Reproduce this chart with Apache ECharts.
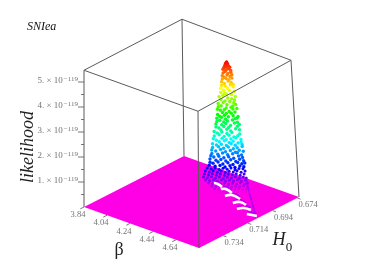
<!DOCTYPE html>
<html>
<head>
<meta charset="utf-8">
<style>html,body{margin:0;padding:0;background:#fff}#c{width:382px;height:269px;filter:blur(0.35px)}</style>
<script src="https://cdn.jsdelivr.net/npm/echarts@6/dist/echarts.min.js"></script>
</head>
<body>
<div id="c"></div>
<script>
const betaTicks = [3.84, 4.04, 4.24, 4.44, 4.64];
const h0Ticks = [0.674, 0.694, 0.714, 0.734];
const likelihoodTicks = [1, 2, 3, 4, 5];
const likelihoodMinorTicks = [0.5, 1.5, 2.5, 3.5, 4.5];
const betaRange = [3.84, 4.84];
const h0Range = [0.6725, 0.7535];
const likelihoodRange = [0, 5.47]; // in units of 1e-119
const likelihoodPeak = 5.26;

// [beta, H0, likelihood / 1e-119]
const peakPoints = [
[4.456,.6919,5.26],
[4.451,.6923,5.21],[4.461,.6916,5.19],
[4.446,.6926,5.12],[4.456,.6919,5.15],[4.466,.6913,5.10],
[4.441,.6929,5.04],[4.451,.6923,5.07],[4.461,.6916,5.02],[4.472,.6909,5.05],
[4.436,.6933,4.97],[4.451,.6923,4.93],[4.466,.6913,4.99],[4.477,.6906,4.92],
[4.436,.6933,4.82],[4.446,.6926,4.88],[4.461,.6916,4.80],[4.477,.6906,4.85],
[4.431,.6936,4.71],[4.441,.6929,4.65],[4.456,.6919,4.74],[4.472,.6909,4.68],[4.482,.6903,4.75],
[4.431,.6936,4.58],[4.451,.6923,4.60],[4.466,.6913,4.55],[4.482,.6903,4.62],
[4.426,.6939,4.47],[4.441,.6929,4.40],[4.461,.6916,4.50],[4.477,.6906,4.44],[4.487,.6899,4.36],
[4.426,.6939,4.33],[4.446,.6926,4.29],[4.472,.6909,4.35],
[4.420,.6943,4.21],[4.436,.6933,4.13],[4.456,.6919,4.22],[4.487,.6899,4.27],
[4.420,.6943,4.04],[4.441,.6929,4.01],[4.466,.6913,4.12],[4.492,.6896,4.09],
[4.431,.6936,3.93],[4.451,.6923,3.97],[4.477,.6906,3.96],[4.497,.6893,3.88],
[4.410,.6949,3.87],[4.456,.6919,3.82],[4.477,.6906,3.79],[4.492,.6896,3.74],
[4.420,.6943,3.76],[4.441,.6929,3.70],[4.466,.6913,3.68],[4.487,.6899,3.63],
[4.405,.6953,3.60],[4.431,.6936,3.64],[4.451,.6923,3.55],[4.482,.6903,3.50],[4.497,.6893,3.56],
[4.405,.6953,3.47],[4.420,.6943,3.51],[4.446,.6926,3.42],[4.472,.6909,3.45],
[4.400,.6956,3.37],[4.415,.6946,3.33],[4.436,.6933,3.35],[4.461,.6916,3.28],[4.482,.6903,3.38],[4.502,.6889,3.40],
[4.426,.6939,3.24],[4.446,.6926,3.20],[4.472,.6909,3.21],[4.492,.6896,3.26],
[4.400,.6956,3.16],[4.410,.6949,3.09],[4.436,.6933,3.13],[4.456,.6919,3.07],[4.482,.6903,3.11],[4.502,.6889,3.02],
[4.395,.6959,3.01],[4.420,.6943,3.05],[4.441,.6929,2.97],[4.492,.6896,2.99],[4.507,.6886,3.08],
[4.395,.6959,2.88],[4.410,.6949,2.93],[4.431,.6936,2.86],[4.451,.6923,2.90],[4.477,.6906,2.94],[4.502,.6889,2.85],
[4.390,.6963,2.78],[4.420,.6943,2.75],[4.441,.6929,2.80],[4.466,.6913,2.72],[4.487,.6899,2.82],[4.513,.6883,2.76],
[4.390,.6963,2.66],[4.405,.6953,2.62],[4.431,.6936,2.68],[4.456,.6919,2.64],[4.502,.6889,2.69],
[4.415,.6946,2.54],[4.446,.6926,2.57],[4.466,.6913,2.50],[4.492,.6896,2.59],[4.513,.6883,2.55],
[4.379,.6969,2.48],[4.395,.6959,2.42],[4.420,.6943,2.46],[4.446,.6926,2.40],[4.472,.6909,2.44],[4.513,.6883,2.38],
[4.379,.6969,2.30],[4.405,.6953,2.35],[4.431,.6936,2.28],[4.456,.6919,2.33],[4.482,.6903,2.26],[4.502,.6889,2.31],
[4.374,.6973,2.19],[4.390,.6963,2.13],[4.420,.6943,2.21],[4.441,.6929,2.15],[4.466,.6913,2.18],[4.492,.6896,2.23],[4.518,.6879,2.16],
[4.405,.6953,2.07],[4.431,.6936,2.11],[4.456,.6919,2.04],[4.477,.6906,2.09],[4.502,.6889,2.02],[4.518,.6879,2.06],
[4.369,.6976,1.99],[4.390,.6963,1.94],[4.415,.6946,1.97],[4.441,.6929,1.92],[4.466,.6913,1.99],[4.487,.6899,1.93],[4.523,.6876,1.96],
[4.369,.6976,1.84],[4.400,.6956,1.87],[4.426,.6939,1.81],[4.451,.6923,1.86],[4.477,.6906,1.79],[4.497,.6893,1.83],[4.523,.6876,1.88],
[4.364,.6979,1.74],[4.385,.6966,1.70],[4.410,.6949,1.76],[4.436,.6933,1.67],[4.461,.6916,1.72],[4.487,.6899,1.65],[4.507,.6886,1.73],[4.528,.6873,1.69],
[4.364,.6979,1.60],[4.395,.6959,1.57],[4.420,.6943,1.62],[4.446,.6926,1.55],[4.472,.6909,1.59],[4.497,.6893,1.63],[4.518,.6879,1.54],
[4.359,.6983,1.51],[4.374,.6973,1.46],[4.400,.6956,1.49],[4.426,.6939,1.43],[4.451,.6923,1.47],[4.477,.6906,1.41],[4.502,.6889,1.50],[4.523,.6876,1.44],
[4.354,.6986,1.38],[4.385,.6966,1.33],[4.410,.6949,1.36],[4.436,.6933,1.30],[4.461,.6916,1.35],[4.487,.6899,1.28],[4.507,.6886,1.37],[4.528,.6873,1.31],
[4.354,.6986,1.25],[4.369,.6976,1.21],[4.395,.6959,1.26],[4.420,.6943,1.18],[4.446,.6926,1.23],[4.472,.6909,1.16],[4.497,.6893,1.24],[4.518,.6879,1.19],[4.533,.6869,1.22],
[4.349,.6989,1.13],[4.379,.6969,1.09],[4.405,.6953,1.12],[4.431,.6936,1.06],[4.456,.6919,1.11],[4.482,.6903,1.04],[4.507,.6886,1.10],[4.528,.6873,1.07]
];

// low flanks of the peak, close to the floor
const flankPoints = [
[4.338,.6996,1.02],[4.359,.6983,.98],[4.379,.6969,1.02],[4.400,.6956,.96],[4.420,.6943,1.01],[4.441,.6929,.97],[4.461,.6916,1.02],[4.482,.6903,.95],[4.502,.6889,1.00],[4.523,.6876,.99],
[4.328,.7003,.90],[4.349,.6989,.86],[4.369,.6976,.91],[4.390,.6963,.85],[4.410,.6949,.90],[4.431,.6936,.84],[4.451,.6923,.89],[4.472,.6909,.86],[4.492,.6896,.91],[4.513,.6883,.85],[4.533,.6869,.90],
[4.323,.7006,.78],[4.344,.6993,.74],[4.364,.6979,.79],[4.385,.6966,.73],[4.405,.6953,.78],[4.426,.6939,.72],[4.446,.6926,.77],[4.466,.6913,.74],[4.487,.6899,.79],[4.507,.6886,.73],[4.528,.6873,.78],
[4.318,.7009,.66],[4.338,.6996,.63],[4.359,.6983,.67],[4.379,.6969,.61],[4.400,.6956,.66],[4.420,.6943,.60],[4.441,.6929,.65],[4.461,.6916,.62],[4.482,.6903,.67],[4.502,.6889,.61],[4.523,.6876,.66],[4.538,.6866,.62],
[4.328,.7003,.54],[4.349,.6989,.51],[4.369,.6976,.55],[4.390,.6963,.49],[4.410,.6949,.54],[4.431,.6936,.50],[4.451,.6923,.53],[4.472,.6909,.50],[4.492,.6896,.55],[4.513,.6883,.49],[4.533,.6869,.54],
[4.344,.6993,.42],[4.364,.6979,.39],[4.385,.6966,.43],[4.405,.6953,.37],[4.426,.6939,.42],[4.446,.6926,.38],[4.466,.6913,.41],[4.487,.6899,.38],[4.507,.6886,.43],[4.528,.6873,.37],[4.543,.6863,.42],
[4.359,.6983,.30],[4.379,.6969,.27],[4.400,.6956,.31],[4.420,.6943,.26],[4.441,.6929,.30],[4.461,.6916,.26],[4.482,.6903,.29],[4.502,.6889,.27],[4.523,.6876,.31],[4.543,.6863,.28],
[4.374,.6973,.18],[4.395,.6959,.16],[4.415,.6946,.19],[4.436,.6933,.15],[4.456,.6919,.18],[4.477,.6906,.16],[4.497,.6893,.19],[4.518,.6879,.15],[4.538,.6866,.18],
[4.390,.6963,.06],[4.410,.6949,.06],[4.431,.6936,.06],[4.451,.6923,.06],[4.472,.6909,.06],[4.492,.6896,.06],[4.513,.6883,.06],[4.533,.6869,.06],[4.554,.6856,.06]
];

// pale gaps between the grid rows of the surface, on the floor: [beta, H0] runs
const floorGaps = [
[[4.264,.6878],[4.294,.6874],[4.345,.6888]],
[[4.360,.6911],[4.385,.6894],[4.456,.6911]],
[[4.451,.6962],[4.477,.6930],[4.558,.6940]],
[[4.562,.7002],[4.588,.6968],[4.649,.6977]],
[[4.643,.7044],[4.668,.7012],[4.724,.7007]],
[[4.744,.7058],[4.815,.7043]]
];
// violet grid rows just behind those gaps, and the right rim of the surface
const floorRows = [
[[4.239,.6855],[4.269,.6851],[4.320,.6865]],
[[4.335,.6888],[4.360,.6871],[4.431,.6888]],
[[4.426,.6939],[4.452,.6907],[4.533,.6917]],
[[4.537,.6979],[4.563,.6945],[4.624,.6954]],
[[4.618,.7021],[4.643,.6989],[4.699,.6984]],
[[4.719,.7035],[4.790,.7020]],
[[4.403,.6740],[4.569,.6870],[4.775,.7021]]
];

const FLOOR = '#ff00e6';
const EDGE = '#5a5a5a';
const TICK = '#777';
const TEXT = '#4d4d4d';
const SERIF = '"Liberation Serif","Times New Roman",serif';

function project(beta, h0, like) {
  const b = (beta - betaRange[0]) / (betaRange[1] - betaRange[0]);
  const t = (h0Range[1] - h0) / (h0Range[1] - h0Range[0]);
  const lean = like / likelihoodRange[1] * (b + 2 * t + 5 * b * t);
  return [84 + 115 * b + 100 * t - lean, 207 + 41 * b - 51 * t - 25 * like];
}
const [bMin, bMax] = betaRange, [hMin, hMax] = h0Range, lTop = likelihoodRange[1];
const corners = {
  left: [bMin, hMax], front: [bMax, hMax], right: [bMax, hMin], back: [bMin, hMin]
};
const at = (c, l) => project(corners[c][0], corners[c][1], l);
const seg = (p, q) => [p[0], p[1], q[0], q[1]];

const rearEdges = [seg(at('back', 0), at('back', lTop))];
const frontEdges = [
  seg(at('left', 0), at('left', lTop)),
  seg(at('front', 0), at('front', lTop)),
  seg(at('right', 0), at('right', lTop)),
  seg(at('left', lTop), at('back', lTop)),
  seg(at('back', lTop), at('right', lTop)),
  seg(at('right', lTop), at('front', lTop)),
  seg(at('front', lTop), at('left', lTop))
];
const tickSegs = [];
betaTicks.forEach(v => tickSegs.push(seg(project(v, hMax, 0), project(v, hMax + 0.003, 0))));
h0Ticks.forEach(v => tickSegs.push(seg(project(bMax, v, 0), project(bMax + 0.03, v, 0))));
likelihoodTicks.forEach(v => { const p = project(bMin, hMax, v); tickSegs.push(seg([p[0] - 6, p[1]], p)); });
likelihoodMinorTicks.forEach(v => { const p = project(bMin, hMax, v); tickSegs.push(seg([p[0] - 3, p[1]], p)); });

const segmentSeries = (data, color, z) => ({
  type: 'custom', coordinateSystem: 'cartesian2d', silent: true, z, clip: false,
  data, encode: { x: [0, 2], y: [1, 3] },
  renderItem: (params, api) => {
    const a = api.coord([api.value(0), api.value(1)]);
    const b = api.coord([api.value(2), api.value(3)]);
    return { type: 'line', shape: { x1: a[0], y1: a[1], x2: b[0], y2: b[1] },
      style: { stroke: color, lineWidth: 1, fill: null } };
  }
});
const runSeries = (runs, color, width, z) => ({
  type: 'custom', coordinateSystem: 'cartesian2d', silent: true, z,
  data: runs.map((g, i) => [i, 0]),
  renderItem: (params, api) => {
    const pts = runs[params.dataIndex].map(r => api.coord(project(r[0], r[1], 0)));
    return { type: 'polyline', shape: { points: pts, smooth: 0.4 },
      style: { stroke: color, lineWidth: width, fill: null } };
  }
});
const labelSeries = (data, formatter, offset, position, extra) => ({
  type: 'scatter', silent: true, symbolSize: 0.01, z: 20, data,
  label: Object.assign({ show: true, position, offset, formatter,
    color: TEXT, fontFamily: SERIF, fontSize: 8.5 }, extra || {})
});
const toXY = row => { const p = project(row[0], row[1], row[2]); return [p[0], p[1], row[2]]; };

const option = {
  animation: false,
  backgroundColor: '#fff',
  title: { text: 'SNIea', left: 27, top: 21, padding: 0,
    textStyle: { fontFamily: SERIF, fontStyle: 'italic', fontWeight: 'normal', fontSize: 12, color: '#111' } },
  grid: { left: 0, right: 0, top: 0, bottom: 0 },
  xAxis: { type: 'value', min: 0, max: 382, show: false },
  yAxis: { type: 'value', min: 0, max: 269, inverse: true, show: false },
  visualMap: { show: false, type: 'continuous', seriesIndex: [4, 6], dimension: 2,
    min: 0, max: likelihoodPeak,
    inRange: { color: [FLOOR, '#0000ff', '#00ffff', '#00ff00', '#ffff00', '#ff0000'] } },
  graphic: [
    { type: 'text', x: 28, y: 147, rotation: Math.PI / 2, z: 30,
      style: { text: 'likelihood', fill: '#222', font: 'italic 18px ' + SERIF, textAlign: 'center', textVerticalAlign: 'middle' } },
    { type: 'text', x: 119, y: 250, z: 30,
      style: { text: 'β', fill: '#222', font: '18px ' + SERIF, textAlign: 'center', textVerticalAlign: 'middle' } },
    { type: 'text', x: 279, y: 240, z: 30,
      style: { text: 'H', fill: '#222', font: 'italic 18px ' + SERIF, textAlign: 'center', textVerticalAlign: 'middle' } },
    { type: 'text', x: 289, y: 248, z: 30,
      style: { text: '0', fill: '#222', font: '13px ' + SERIF, textAlign: 'center', textVerticalAlign: 'middle' } }
  ],
  series: [
    segmentSeries(rearEdges, EDGE, 1),
    { type: 'custom', coordinateSystem: 'cartesian2d', silent: true, z: 2,
      data: [at('left', 0), at('front', 0), at('right', 0), at('back', 0)],
      renderItem: (params, api) => {
        if (params.dataIndex !== 0) return null;
        const pts = ['left', 'front', 'right', 'back'].map(c => api.coord(at(c, 0)));
        return { type: 'polygon', shape: { points: pts }, style: { fill: FLOOR } };
      } },
    segmentSeries(tickSegs, TICK, 3),
    runSeries(floorRows, '#b400f0', 1.6, 3),
    { type: 'scatter', silent: true, z: 4, symbolSize: 3, data: flankPoints.map(toXY),
      itemStyle: { opacity: 1 } },
    runSeries(floorGaps, '#fff', 2.6, 5),
    { type: 'scatter', silent: true, z: 6, symbolSize: 3.4, data: peakPoints.map(toXY),
      itemStyle: { opacity: 1 } },
    segmentSeries(frontEdges, EDGE, 7),
    labelSeries(betaTicks.map(v => project(v, hMax, 0)), p => betaTicks[p.dataIndex].toFixed(2), [-6, 8], 'inside'),
    labelSeries(h0Ticks.map(v => project(bMax, v, 0)), p => h0Ticks[p.dataIndex].toFixed(3), [11, 7], 'inside'),
    labelSeries(likelihoodTicks.map(v => project(bMin, hMax, v)),
      p => '{m|' + likelihoodTicks[p.dataIndex] + '. × 10}{s|−119}', [-6, -1], 'left',
      { distance: 0, rich: {
        m: { fontFamily: SERIF, fontSize: 9, color: TEXT },
        s: { fontFamily: SERIF, fontSize: 7, color: TEXT, padding: [0, 0, 3, 1] } } })
  ]
};
const chart = echarts.init(document.getElementById('c'), null, { renderer: 'canvas' });
chart.setOption(option);
</script>
</body>
</html>
